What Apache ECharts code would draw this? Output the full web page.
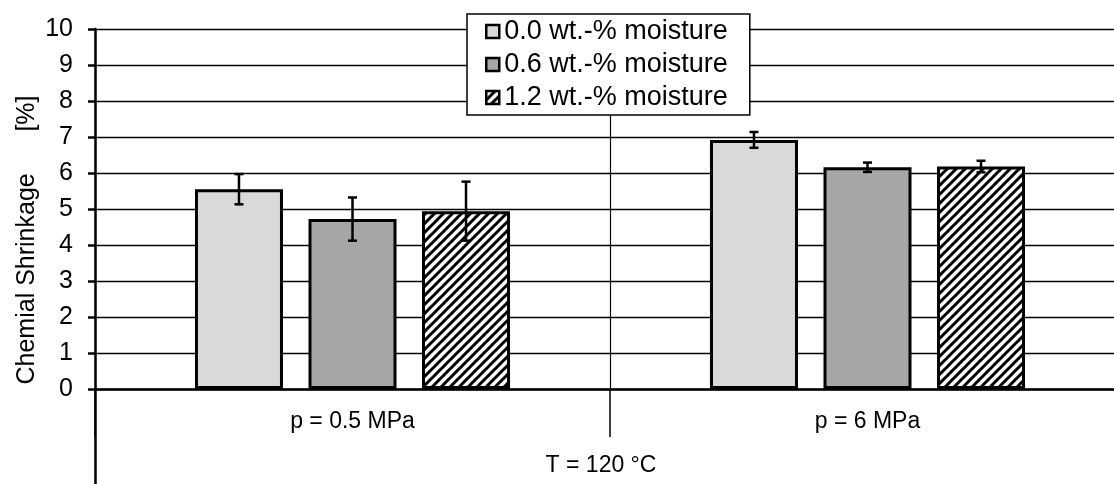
<!DOCTYPE html>
<html>
<head>
<meta charset="utf-8">
<script src="https://cdn.jsdelivr.net/npm/echarts@6/dist/echarts.min.js"></script>
<style>
html,body{margin:0;padding:0;background:#fff;}
#chart{width:1114px;height:484px;}
</style>
</head>
<body>
<div id="chart"></div>
<script>
// ---- data ----
const categories = ['p = 0.5 MPa', 'p = 6 MPa'];
const outerCategories = ['T = 120 °C'];
const seriesNames = ['0.0 wt.-% moisture', '0.6 wt.-% moisture', '1.2 wt.-% moisture'];
const meanDry = [5.55, 6.92];
const errDry = [0.42, 0.22];
const meanMid = [4.72, 6.16];
const errMid = [0.60, 0.13];
const meanWet = [4.94, 6.18];
const errWet = [0.82, 0.16];
const yTicks = [0, 1, 2, 3, 4, 5, 6, 7, 8, 9, 10];
const yTitle = 'Chemial Shrinkage      [%]';

// ---- styling ----
const FONT = '"Liberation Sans", Arial, sans-serif';
const BAR_WIDTH = 88;
const BAR_GAP = 0.29;

function hatch() {
  const s = 9;
  const c = document.createElement('canvas');
  c.width = s; c.height = s;
  const g = c.getContext('2d');
  g.fillStyle = '#fff';
  g.fillRect(0, 0, s, s);
  g.strokeStyle = '#000';
  g.lineWidth = 3;
  g.lineCap = 'square';
  g.beginPath();
  g.moveTo(-2, s + 2); g.lineTo(s + 2, -2);
  g.moveTo(-s / 2 - 2, s / 2 + 2); g.lineTo(s / 2 + 2, -s / 2 - 2);
  g.moveTo(s / 2 - 2, s * 1.5 + 2); g.lineTo(s * 1.5 + 2, s / 2 - 2);
  g.stroke();
  return c;
}

const fills = ['#d9d9d9', '#a6a6a6', { image: hatch(), repeat: 'repeat' }];
const means = [meanDry, meanMid, meanWet];
const errs = [errDry, errMid, errWet];
const pitch = BAR_WIDTH * (1 + BAR_GAP);
const offsets = [-pitch, 0, pitch];

const series = [];
means.forEach((m, k) => {
  series.push({
    type: 'bar',
    name: seriesNames[k],
    data: m,
    barWidth: BAR_WIDTH,
    barGap: (BAR_GAP * 100) + '%',
    itemStyle: { color: fills[k], borderColor: '#000', borderWidth: 3 },
    z: 3
  });
});
means.forEach((m, k) => {
  series.push({
    type: 'custom',
    data: m.map((v, i) => [i, v, errs[k][i]]),
    encode: { x: 0, y: 1 },
    z: 10,
    renderItem: function (params, api) {
      const i = api.value(0), v = api.value(1), e = api.value(2);
      const top = api.coord([i, v + e]);
      const bot = api.coord([i, v - e]);
      const x = top[0] + offsets[k];
      const st = { stroke: '#000', lineWidth: 2.5 };
      return {
        type: 'group',
        children: [
          { type: 'line', shape: { x1: x, y1: top[1], x2: x, y2: bot[1] }, style: st },
          { type: 'line', shape: { x1: x - 4.5, y1: top[1], x2: x + 4.5, y2: top[1] }, style: st },
          { type: 'line', shape: { x1: x - 4.5, y1: bot[1], x2: x + 4.5, y2: bot[1] }, style: st }
        ]
      };
    }
  });
});

const chart = echarts.init(document.getElementById('chart'), null, { renderer: 'canvas' });
chart.setOption({
  animation: false,
  backgroundColor: '#fff',
  textStyle: { fontFamily: FONT, color: '#000' },
  grid: { left: 95, right: -11, top: 29, bottom: 95, containLabel: false, outerBoundsMode: 'none' },
  legend: {
    data: seriesNames,
    orient: 'vertical',
    left: 467,
    top: 14,
    padding: [4, 22, 4, 18],
    itemGap: 6,
    itemWidth: 13,
    itemHeight: 13,
    backgroundColor: '#fff',
    borderColor: '#000',
    borderWidth: 1.5,
    borderRadius: 0,
    icon: 'rect',
    itemStyle: { borderColor: '#000', borderWidth: 2.5 },
    textStyle: { fontFamily: FONT, fontSize: 27, color: '#000' },
    z: 20
  },
  xAxis: [
    {
      type: 'category',
      data: categories,
      position: 'bottom',
      axisLine: { show: true, lineStyle: { color: '#000', width: 2.5 } },
      axisTick: { show: true, interval: 0, alignWithLabel: false, length: 48, lineStyle: { color: '#000', width: 1.5 } },
      splitLine: { show: true, interval: 0, lineStyle: { color: '#000', width: 1.2 } },
      axisLabel: { fontFamily: FONT, fontSize: 23, color: '#000', margin: 21, interval: 0 }
    },
    {
      type: 'category',
      data: outerCategories,
      position: 'bottom',
      offset: 0,
      axisLine: { show: false },
      axisTick: { show: true, interval: 0, alignWithLabel: false, length: 95, lineStyle: { color: '#000', width: 2.5 } },
      splitLine: { show: false },
      axisLabel: { fontFamily: FONT, fontSize: 23, color: '#000', margin: 65, padding: [0, 18, 0, 0] }
    }
  ],
  yAxis: {
    type: 'value',
    min: yTicks[0],
    max: yTicks[yTicks.length - 1],
    interval: yTicks[1] - yTicks[0],
    axisLine: { show: true, lineStyle: { color: '#000', width: 2.5 } },
    axisTick: { show: true, inside: false, length: 7, lineStyle: { color: '#000', width: 2.5 } },
    splitLine: { show: true, lineStyle: { color: '#000', width: 1.3 } },
    axisLabel: { fontFamily: FONT, fontSize: 25, color: '#000', margin: 22 }
  },
  graphic: [
    {
      type: 'text',
      x: 27,
      y: 240,
      rotation: Math.PI / 2,
      style: { text: yTitle, font: '25px ' + FONT, fill: '#000', align: 'center', verticalAlign: 'middle' }
    }
  ],
  series: series
});
</script>
</body>
</html>
